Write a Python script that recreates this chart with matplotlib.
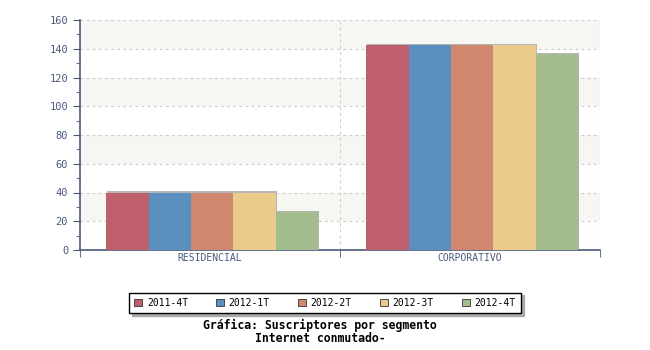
import matplotlib
matplotlib.use("Agg")
import matplotlib.pyplot as plt
import matplotlib.patheffects as pe
from matplotlib.ticker import MultipleLocator
import numpy as np

categories = ["RESIDENCIAL", "CORPORATIVO"]
series = ["2011-4T", "2012-1T", "2012-2T", "2012-3T", "2012-4T"]
values = [
    [40, 142.5],
    [40, 142.5],
    [40, 142.5],
    [40, 142.5],
    [26.5, 136.5],
]
colors = ["#BF5F6B", "#5B8FBF", "#CF886F", "#EBCB8B", "#A3BC8B"]

axis_col = "#4A5A7A"
font = "DejaVu Sans Mono"

fig = plt.figure(figsize=(6.5, 3.5), dpi=100)
ax = fig.add_axes([80 / 650, 1 - 250 / 350, 520 / 650, 230 / 350])

# alternating background bands
for lo in range(20, 160, 40):
    ax.axhspan(lo, lo + 20, color="#F6F6F2", zorder=0, lw=0)
for y in range(20, 161, 20):
    ax.axhline(y, color="#CCCCCC", ls=(0, (2.5, 3)), lw=0.8, zorder=1)
for x in [0.5, 1.5]:
    ax.axvline(x, color="#CCCCCC", ls=(0, (2.5, 3)), lw=0.8, zorder=1)

bw = 0.163
n = len(series)
xs = np.arange(len(categories))
all_bars = []
for i, (name, vals, c) in enumerate(zip(series, values, colors)):
    pos = xs - n * bw / 2 + bw * (i + 0.5) + 0.008
    bars = ax.bar(pos, vals, width=bw, color=c, label=name, zorder=3, lw=0)
    all_bars.extend(bars)

ax.set_xlim(-0.5, 1.5)
ax.set_ylim(0, 160)
ax.yaxis.set_major_locator(MultipleLocator(20))
ax.yaxis.set_minor_locator(MultipleLocator(10))
ax.set_xticks(xs)
ax.set_xticklabels(categories, fontfamily=font, fontsize=7, color=axis_col)
ax.set_xticks([-0.5, 0.5, 1.5], minor=True)
ax.tick_params(axis="x", which="major", length=0, pad=2)
ax.tick_params(axis="x", which="minor", length=5, color=axis_col, direction="out")
ax.tick_params(axis="y", which="major", length=5, color=axis_col, labelcolor=axis_col, labelsize=7.5)
ax.tick_params(axis="y", which="minor", length=3, color=axis_col)
for lab in ax.get_yticklabels():
    lab.set_fontfamily(font)

for s in ["top", "right"]:
    ax.spines[s].set_visible(False)
for s in ["left", "bottom"]:
    ax.spines[s].set_color(axis_col)
    ax.spines[s].set_linewidth(1.2)

leg = fig.legend(loc="center", bbox_to_anchor=(325 / 650, 1 - 303 / 350), ncol=5,
                 prop={"family": font, "size": 7}, frameon=True, fancybox=False,
                 shadow={"color": "#AAAAAA", "alpha": 1.0}, handlelength=0.8, handleheight=0.8,
                 columnspacing=2.9, handletextpad=0.5, borderpad=0.55, borderaxespad=0)
leg.get_frame().set_edgecolor("#000000")
leg.get_frame().set_linewidth(1.0)
for h in leg.legend_handles:
    h.set_edgecolor("#333333")
    h.set_linewidth(0.6)

# subtle shadow on bars (after the legend so handles stay flat)
shadow = [pe.SimplePatchShadow(offset=(0.8, 0.8), shadow_rgbFace="#999999", alpha=0.7), pe.Normal()]
for b in all_bars:
    b.set_path_effects(shadow)

fig.text(320 / 650, 1 - 325 / 350, "Gráfica: Suscriptores por segmento", ha="center", va="center",
         fontfamily=font, fontsize=8.3, fontweight="bold")
fig.text(320 / 650, 1 - 338 / 350, "Internet conmutado-", ha="center", va="center",
         fontfamily=font, fontsize=8.3, fontweight="bold")

fig.savefig("out.png", dpi=100)
